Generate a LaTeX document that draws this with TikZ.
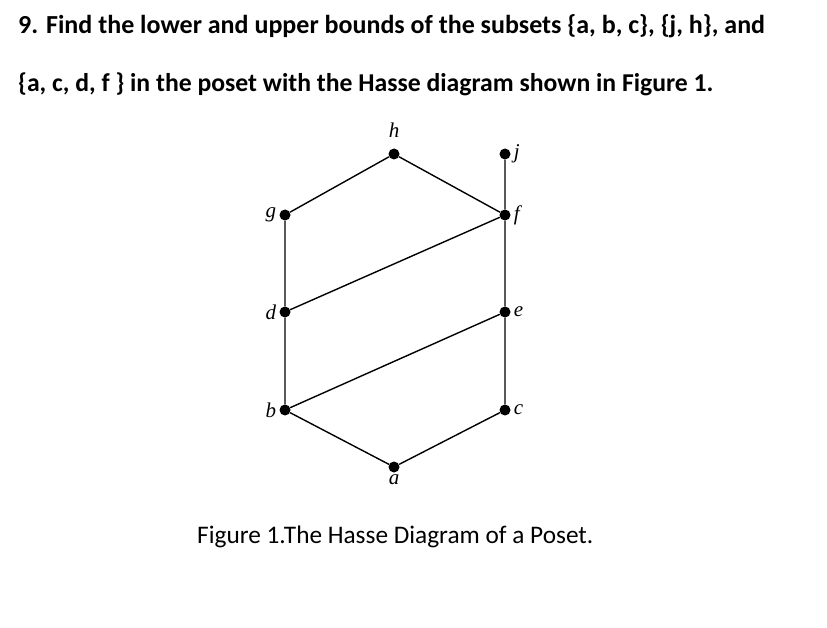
\documentclass[tikz,border=0pt]{standalone}
\usepackage{fontspec}
\setmainfont{Carlito}
\newfontfamily\labfont{Liberation Serif}
\tikzset{
  elem/.style={circle,fill,inner sep=0pt,minimum size=11pt},
  lab/.style={font=\labfont\itshape\fontsize{21}{25}\selectfont,inner sep=3pt},
  link/.style={line width=1.4pt}
}

\begin{document}
\begin{tikzpicture}[x=1pt,y=-1pt]

    \useasboundingbox (0,0) rectangle (827,628);

    % Define the columns and rows of the poset
    \def\xl{285}    % left column (g, d, b)
    \def\xm{394}    % middle (h, a)
    \def\xr{505}    % right column (j, f, e, c)

    % -- Question text --
    \node[anchor=base west,inner sep=0pt,font=\bfseries\fontsize{26}{30}\selectfont] (qone) at (18,34)
      {9. Find the lower and upper bounds of the subsets \{a, b, c\}, \{j, h\}, and};
    \node[anchor=base west,inner sep=0pt,font=\bfseries\fontsize{25.7}{30}\selectfont] (qtwo) at (18,92)
      {\{a, c, d, f \} in the poset with the Hasse diagram shown in Figure 1.};

    % -- Elements of the poset --
    \node[elem] (h) at (\xm,154) {};
    \node[elem] (j) at (\xr,154) {};
    \node[elem] (g) at (\xl,215) {};
    \node[elem] (f) at (\xr,215) {};
    \node[elem] (d) at (\xl,312) {};
    \node[elem] (e) at (\xr,312) {};
    \node[elem] (b) at (\xl,410) {};
    \node[elem] (c) at (\xr,410) {};
    \node[elem] (a) at (\xm,467) {};

    % -- Covering relations --
    \draw[link] (a) -- (b) -- (d) -- (g) -- (h) -- (f) -- (j);
    \draw[link] (a) -- (c) -- (e) -- (f);
    \draw[link] (b) -- (e);
    \draw[link] (d) -- (f);

    % -- Labels of the elements --
    \node[lab,anchor=base] (hlab) at (\xm,138) {h};
    \node[lab,anchor=base] (alab) at (\xm,484) {a};
    \node[lab,anchor=west] (jlab) at (j.east) {j};
    \node[lab,anchor=west] (flab) at (f.east) {f};
    \node[lab,anchor=west] (elab) at (e.east) {e};
    \node[lab,anchor=west] (clab) at (c.east) {c};
    \node[lab,anchor=east] (glab) at (g.west) {g};
    \node[lab,anchor=east] (dlab) at (d.west) {d};
    \node[lab,anchor=east] (blab) at (b.west) {b};

    % -- Caption --
    \node[anchor=base west,inner sep=0pt,font=\fontsize{25.3}{30}\selectfont] (cap) at (197,543)
      {Figure 1.The Hasse Diagram of a Poset.};

\end{tikzpicture}
\end{document}
